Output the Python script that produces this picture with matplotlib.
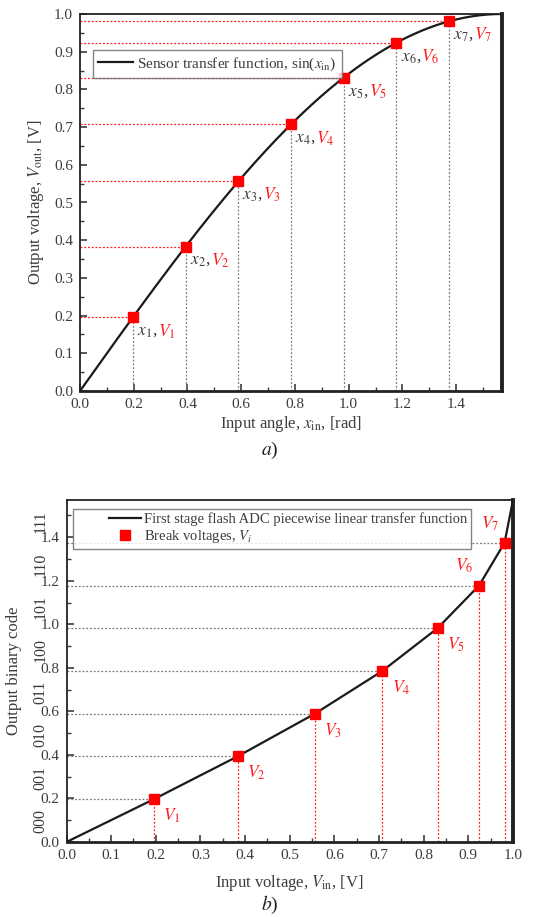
import numpy as np
import matplotlib
matplotlib.use("Agg")
import matplotlib.pyplot as plt
from matplotlib.ticker import MultipleLocator, FormatStrFormatter
from matplotlib.legend_handler import HandlerLine2D
import matplotlib.transforms as mtrans

plt.rcParams['font.family'] = ['Liberation Serif', 'DejaVu Serif']
plt.rcParams['mathtext.fontset'] = 'stix'

# ---- data ----
break_angles = [0.196, 0.393, 0.589, 0.785, 0.982, 1.178, 1.374]   # x_i [rad]
break_volts = [0.195, 0.383, 0.556, 0.707, 0.831, 0.924, 0.981]    # V_i [V]
angle_max = 1.5708
codes = ['000', '001', '010', '011', '100', '101', '110', '111']
code_centers = [0.098, 0.295, 0.491, 0.687, 0.884, 1.080, 1.276, 1.473]

TXT = '#3c3c3c'
RED = '#ff1a1a'
GRAY = '#7a7a7a'

fig = plt.figure(figsize=(5.39, 9.17), dpi=100)

def style_axes(ax):
    ax.tick_params(which='both', direction='in', colors=TXT, labelcolor=TXT, labelsize=11)
    ax.tick_params(which='major', length=5, width=1.2)
    ax.tick_params(which='minor', length=3, width=1.0)
    ax.tick_params(axis='both', which='both', top=False, right=False)
    ax.tick_params(axis='x', pad=5)
    ax.tick_params(axis='y', pad=5)
    for s in ['left', 'top']:
        ax.spines[s].set_linewidth(1.3)
        ax.spines[s].set_color('#222222')
    ax.spines['bottom'].set_linewidth(2.0)
    ax.spines['right'].set_linewidth(2.8)
    ax.spines['bottom'].set_color('#222222')
    ax.spines['right'].set_color('#222222')

# ================= a) =================
ax1 = fig.add_axes([80/539, 1-391/917, 422/539, 377/917])
xs = np.linspace(0, angle_max, 400)
ax1.plot(xs, np.sin(xs), color='#1a1a1a', lw=1.6, zorder=3,
         label=r'Sensor transfer function, sin($x_{\rm in}$)')
for i, (xa, v) in enumerate(zip(break_angles, break_volts)):
    ax1.plot([0, xa], [v, v], ls=(0, (1.5, 1.5)), color=RED, lw=0.9, zorder=2)
    ax1.plot([xa, xa], [0, v], ls=(0, (1.5, 1.5)), color=GRAY, lw=0.9, zorder=2)
    ax1.annotate(r'$x_{%d}$,' % (i + 1), (xa, v), xytext=(3, -10), textcoords='offset points',
                 color=TXT, fontsize=12.5, va='center', ha='left')
    ax1.annotate(r'$V_{%d}$' % (i + 1), (xa, v), xytext=(18, -10), textcoords='offset points',
                 color=RED, fontsize=12.5, va='center', ha='left')
ax1.plot(break_angles, break_volts, 's', color='red', ms=7, zorder=4)
ax1.set_xlim(0, angle_max)
ax1.set_ylim(0, 1.0)
ax1.xaxis.set_major_locator(MultipleLocator(0.2))
ax1.xaxis.set_minor_locator(MultipleLocator(0.1))
ax1.yaxis.set_major_locator(MultipleLocator(0.1))
ax1.yaxis.set_minor_locator(MultipleLocator(0.05))
ax1.xaxis.set_major_formatter(FormatStrFormatter('%.1f'))
ax1.yaxis.set_major_formatter(FormatStrFormatter('%.1f'))
style_axes(ax1)
ax1.set_xlabel(r'Input angle, $x_{\rm in}$, [rad]', color=TXT, fontsize=12, labelpad=2)
ax1.set_ylabel(r'Output voltage, $V_{\rm out}$, [V]', color=TXT, fontsize=12, labelpad=6)
leg1 = ax1.legend(loc='upper left', bbox_to_anchor=(0.03, 0.905), fontsize=11, frameon=True,
                  fancybox=False, edgecolor='#666666', handlelength=2.3, borderpad=0.35,
                  borderaxespad=0, handletextpad=0.25)
leg1.get_frame().set_linewidth(1.0)
for t in leg1.get_texts():
    t.set_color(TXT)
fig.text(0.5, 1-450/917, r'$a$)', ha='center', va='center', fontsize=14, color='#222222')

# ================= b) =================
ax2 = fig.add_axes([66.5/539, 1-842/917, 446.5/539, 342/917])
pv = [0.0] + break_volts + [1.0]
pa = [0.0] + break_angles + [angle_max]
ln, = ax2.plot(pv, pa, color='#1a1a1a', lw=1.6, zorder=3,
               label='First stage flash ADC piecewise linear transfer function')
for i, (xa, v) in enumerate(zip(break_angles, break_volts)):
    ax2.plot([0, v], [xa, xa], ls=(0, (1.5, 1.5)), color=GRAY, lw=0.9, zorder=2)
    ax2.plot([v, v], [0, xa], ls=(0, (1.5, 1.5)), color=RED, lw=0.9, zorder=2)
    if i < 5:
        off = (7, -12)
    else:
        off = (-17, 14)
    ax2.annotate(r'$V_{%d}$' % (i + 1), (v, xa), xytext=off, textcoords='offset points',
                 color=RED, fontsize=12.5, va='center', ha='left')
mk, = ax2.plot(break_volts, break_angles, 's', color='red', ms=7, zorder=4,
               label=r'Break voltages, $V_i$', ls='none')
ax2.set_xlim(0, 1.0)
ax2.set_ylim(0, angle_max)
ax2.xaxis.set_major_locator(MultipleLocator(0.1))
ax2.xaxis.set_minor_locator(MultipleLocator(0.05))
ax2.yaxis.set_major_locator(MultipleLocator(0.2))
ax2.yaxis.set_minor_locator(MultipleLocator(0.1))
ax2.xaxis.set_major_formatter(FormatStrFormatter('%.1f'))
ax2.yaxis.set_major_formatter(FormatStrFormatter('%.1f'))
style_axes(ax2)
ax2.set_xlabel(r'Input voltage, $V_{\rm in}$, [V]', color=TXT, fontsize=12, labelpad=8)
ax2.set_ylabel('Output binary code', color=TXT, fontsize=12, labelpad=13)
trans = mtrans.blended_transform_factory(ax2.transAxes, ax2.transData)
for c, yc in zip(codes, code_centers):
    ax2.text(-0.059, yc, c, transform=trans, rotation=90, ha='center', va='center',
             fontsize=11.5, color=TXT)
hmap = {ln: HandlerLine2D(xpad=2.2), mk: HandlerLine2D(xpad=2.2)}
leg2 = ax2.legend(handles=[ln, mk], handler_map=hmap, loc='upper left',
                  bbox_to_anchor=(0.015, 0.975), fontsize=10.5, frameon=True,
                  fancybox=False, edgecolor='#666666', handlelength=4.4, borderpad=0.25,
                  borderaxespad=0, handletextpad=0.2, labelspacing=0.15)
leg2.get_frame().set_linewidth(1.0)
for t in leg2.get_texts():
    t.set_color(TXT)
fig.text(0.5, 1-905/917, r'$b$)', ha='center', va='center', fontsize=14, color='#222222')

fig.savefig('out.png', dpi=100)
